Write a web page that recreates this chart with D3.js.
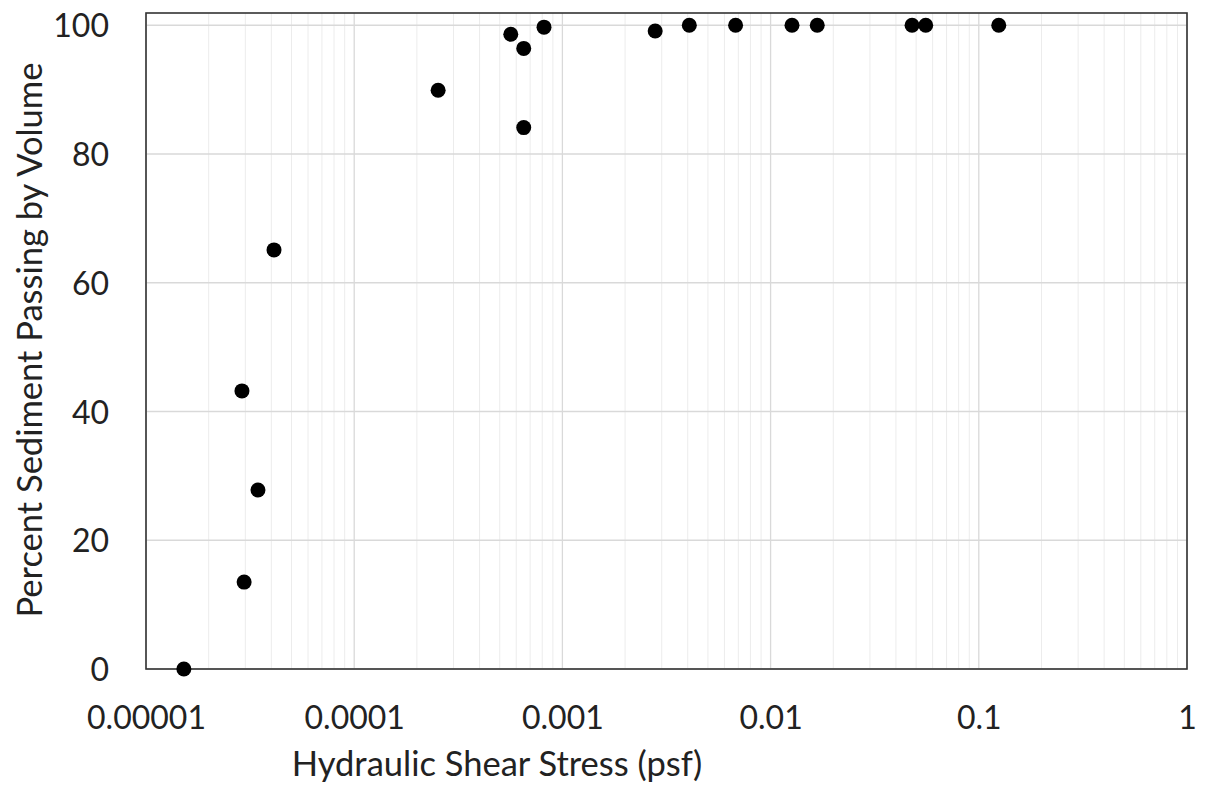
<!DOCTYPE html>
<html><head><meta charset="utf-8">
<script src="https://cdn.jsdelivr.net/npm/d3@7"></script>
<style>body{margin:0;background:#fff}svg{display:block}</style>
</head><body><svg id="c" width="1206" height="787"></svg>
<script>
const shearStress = [1.52e-5, 2.89e-5, 3.45e-5, 2.96e-5, 4.12e-5, 2.53e-4, 5.65e-4, 6.52e-4, 6.52e-4, 8.16e-4, 2.79e-3, 4.07e-3, 6.79e-3, 0.01267, 0.01675, 0.0478, 0.0556, 0.1247];
const percentPassing = [0, 43.2, 27.8, 13.5, 65.1, 89.9, 98.6, 96.4, 84.1, 99.7, 99.1, 100, 100, 100, 100, 100, 100, 100];
const xTicks = [0.00001, 0.0001, 0.001, 0.01, 0.1, 1];
const xTickLabels = ["0.00001", "0.0001", "0.001", "0.01", "0.1", "1"];
const yTicks = [0, 20, 40, 60, 80, 100];

const svg = d3.select("#c");
const L = 146, R = 1187, T = 13, B = 669;
const x = d3.scaleLog().domain([1e-5, 1]).range([L, R]);
const y = d3.scaleLinear().domain([0, 101.9]).range([B, T]);
const font = "Lato, 'Open Sans', sans-serif";

// minor vertical gridlines
const minor = [];
for (let e = -5; e < 0; e++) for (let m = 2; m <= 9; m++) minor.push(m * Math.pow(10, e));
svg.append("g").selectAll("line").data(minor).join("line")
  .attr("x1", d => x(d)).attr("x2", d => x(d)).attr("y1", T).attr("y2", B)
  .attr("stroke", "#ececec").attr("stroke-width", 1);
// major vertical
svg.append("g").selectAll("line").data(xTicks).join("line")
  .attr("x1", d => x(d)).attr("x2", d => x(d)).attr("y1", T).attr("y2", B)
  .attr("stroke", "#d9d9d9").attr("stroke-width", 1.3);
// major horizontal
svg.append("g").selectAll("line").data(yTicks).join("line")
  .attr("x1", L).attr("x2", R).attr("y1", d => y(d)).attr("y2", d => y(d))
  .attr("stroke", "#d9d9d9").attr("stroke-width", 1.3);

// frame
svg.append("rect").attr("x", L).attr("y", T).attr("width", R - L).attr("height", B - T)
  .attr("fill", "none").attr("stroke", "#333").attr("stroke-width", 1.6);

// axes labels via d3 axes
const xAxis = d3.axisBottom(x).tickValues(xTicks).tickFormat((d, i) => xTickLabels[i]).tickSize(0).tickPadding(0);
const gx = svg.append("g").attr("transform", `translate(0,${B})`).call(xAxis);
gx.select(".domain").remove();
gx.selectAll("text").attr("font-family", font).attr("font-size", 32).attr("fill", "#222")
  .attr("dy", null).attr("y", 60);

const yAxis = d3.axisLeft(y).tickValues(yTicks).tickSize(0).tickPadding(0);
const gy = svg.append("g").attr("transform", `translate(${L},0)`).call(yAxis);
gy.select(".domain").remove();
gy.selectAll("text").attr("font-family", font).attr("font-size", 32).attr("fill", "#222")
  .attr("x", -37).attr("dy", "0.36em");

// points
svg.append("g").selectAll("circle").data(shearStress.map((d, i) => [d, percentPassing[i]])).join("circle")
  .attr("cx", d => x(d[0])).attr("cy", d => y(d[1])).attr("r", 7.5).attr("fill", "#000");

// titles
svg.append("text").attr("x", 497).attr("y", 776).attr("text-anchor", "middle")
  .attr("font-family", font).attr("font-size", 34.5).attr("fill", "#222")
  .text("Hydraulic Shear Stress (psf)");
svg.append("text").attr("transform", "translate(42,340) rotate(-90)").attr("text-anchor", "middle")
  .attr("font-family", font).attr("font-size", 34.5).attr("fill", "#222")
  .text("Percent Sediment Passing by Volume");
</script></body></html>
